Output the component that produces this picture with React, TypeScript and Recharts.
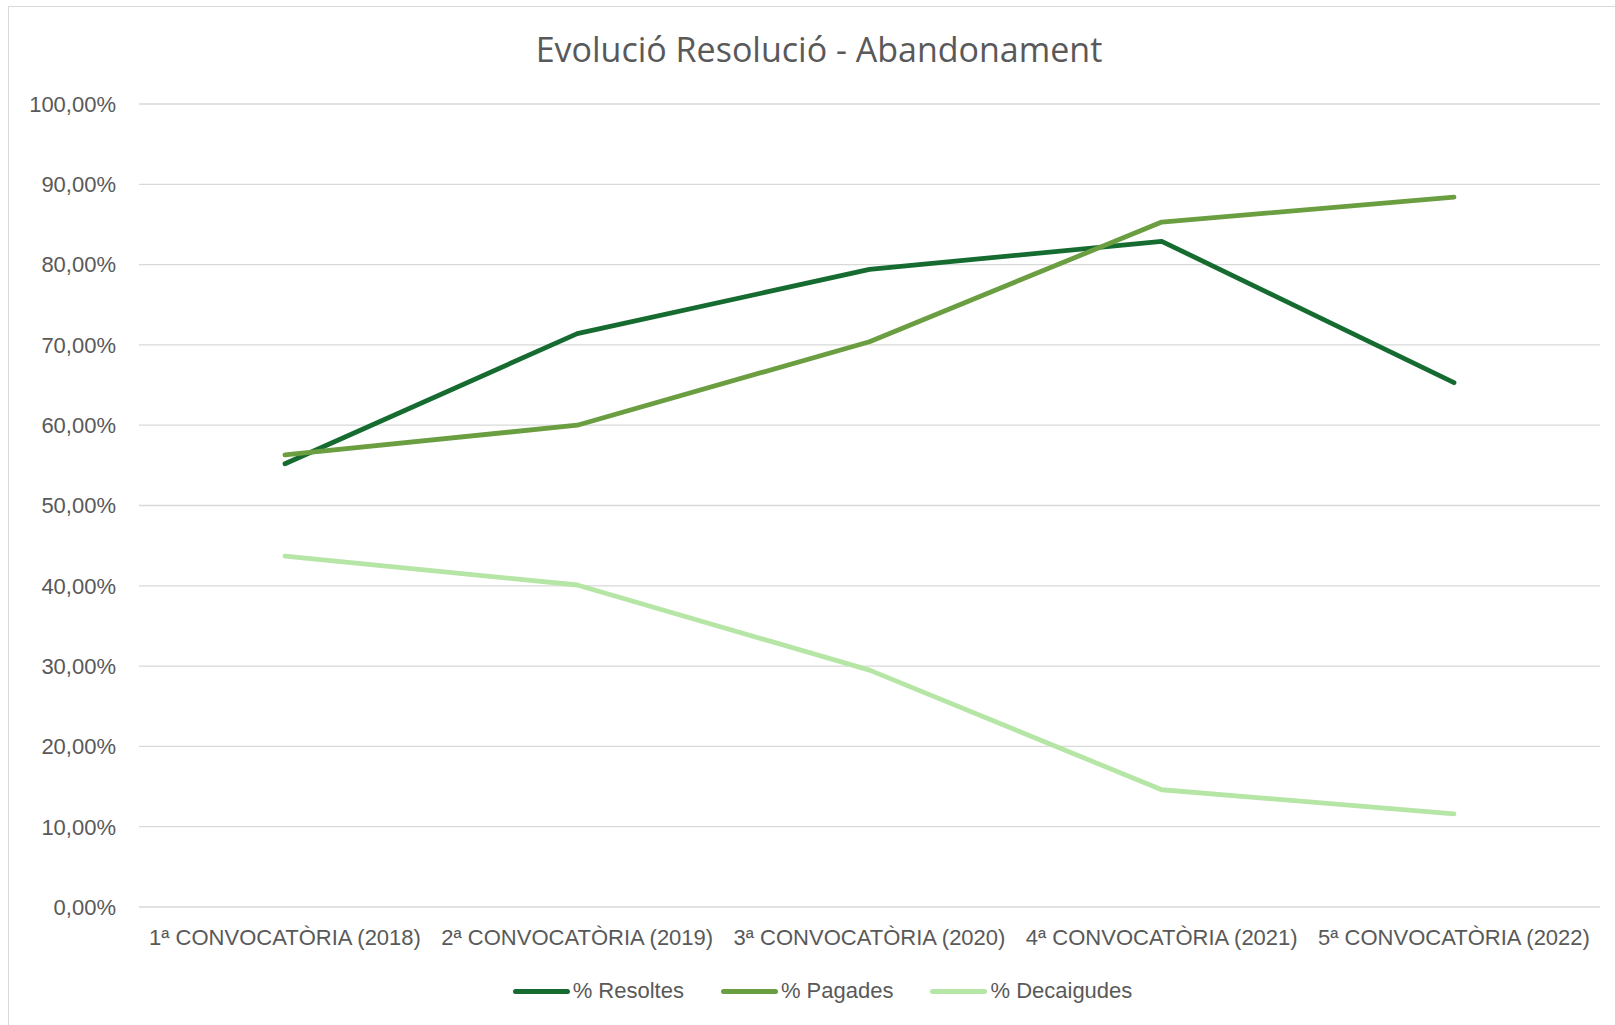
import React from 'react';
import { LineChart, Line, XAxis, YAxis, CartesianGrid } from 'recharts';

const categories = [
  '1ª CONVOCATÒRIA (2018)',
  '2ª CONVOCATÒRIA (2019)',
  '3ª CONVOCATÒRIA (2020)',
  '4ª CONVOCATÒRIA (2021)',
  '5ª CONVOCATÒRIA (2022)',
];
const resoltes = [55.2, 71.4, 79.4, 82.9, 65.3];
const pagades = [56.3, 60.0, 70.4, 85.3, 88.4];
const decaigudes = [43.7, 40.1, 29.5, 14.6, 11.6];
const yTicks = [0, 10, 20, 30, 40, 50, 60, 70, 80, 90, 100];

const series = [
  { key: 'resoltes', name: '% Resoltes', color: '#156B30', values: resoltes },
  { key: 'pagades', name: '% Pagades', color: '#6A9E40', values: pagades },
  { key: 'decaigudes', name: '% Decaigudes', color: '#B5E6A5', values: decaigudes },
];

const data = categories.map((name, i) => {
  const row: Record<string, string | number> = { name };
  series.forEach((s) => { row[s.key] = s.values[i]; });
  return row;
});

const fmt = (v: number) => v.toFixed(2).replace('.', ',') + '%';
const textColor = '#595959';
const font = '"Liberation Sans", Arial, sans-serif';

const App: React.FC = () => {
  return (
    <div style={{ position: 'relative', width: 1615, height: 1025, overflow: 'hidden', fontFamily: font }}>
      <style>{`body{margin:0;overflow:hidden}`}</style>
      <div style={{ position: 'absolute', left: 8, top: 6, width: 1640, height: 1060, border: '1px solid #d9d9d9', boxSizing: 'border-box' }} />
      <div style={{ position: 'absolute', left: 0, width: 1638, top: 27, textAlign: 'center', fontFamily: '"Open Sans", sans-serif', fontSize: 34, color: textColor, lineHeight: '44px' }}>
        Evolució Resolució - Abandonament
      </div>
      <div style={{ position: 'absolute', left: 0, top: 0 }}>
        <LineChart width={1615} height={1025} data={data} margin={{ top: 104, right: 15, left: 0, bottom: 58 }}>
          <CartesianGrid vertical={false} stroke="#d9d9d9" strokeWidth={1.3} />
          <XAxis
            dataKey="name"
            height={60}
            axisLine={false}
            tickLine={false}
            tickSize={0}
            tickMargin={22}
            padding={{ left: 146, right: 146 }}
            interval={0}
            tick={{ fill: textColor, fontSize: 22, fontFamily: font }}
          />
          <YAxis
            width={139}
            domain={[0, 100]}
            ticks={yTicks}
            tickFormatter={fmt}
            axisLine={false}
            tickLine={false}
            tickSize={0}
            tickMargin={23}
            tick={{ fill: textColor, fontSize: 22, fontFamily: font }}
          />
          {series.map((s) => (
            <Line
              key={s.key}
              type="linear"
              dataKey={s.key}
              name={s.name}
              stroke={s.color}
              strokeWidth={4.8}
              strokeLinecap="round"
              strokeLinejoin="round"
              dot={false}
              activeDot={false}
              isAnimationActive={false}
            />
          ))}
        </LineChart>
      </div>
      <div style={{ position: 'absolute', left: 0, width: 1645, top: 976, display: 'flex', justifyContent: 'center', gap: 37, fontSize: 22, color: textColor, lineHeight: '30px' }}>
        {series.map((s) => (
          <div key={s.key} style={{ display: 'flex', alignItems: 'center', gap: 3 }}>
            <div style={{ width: 57, height: 5, borderRadius: 3, background: s.color }} />
            <span>{s.name}</span>
          </div>
        ))}
      </div>
    </div>
  );
};

export default App;
